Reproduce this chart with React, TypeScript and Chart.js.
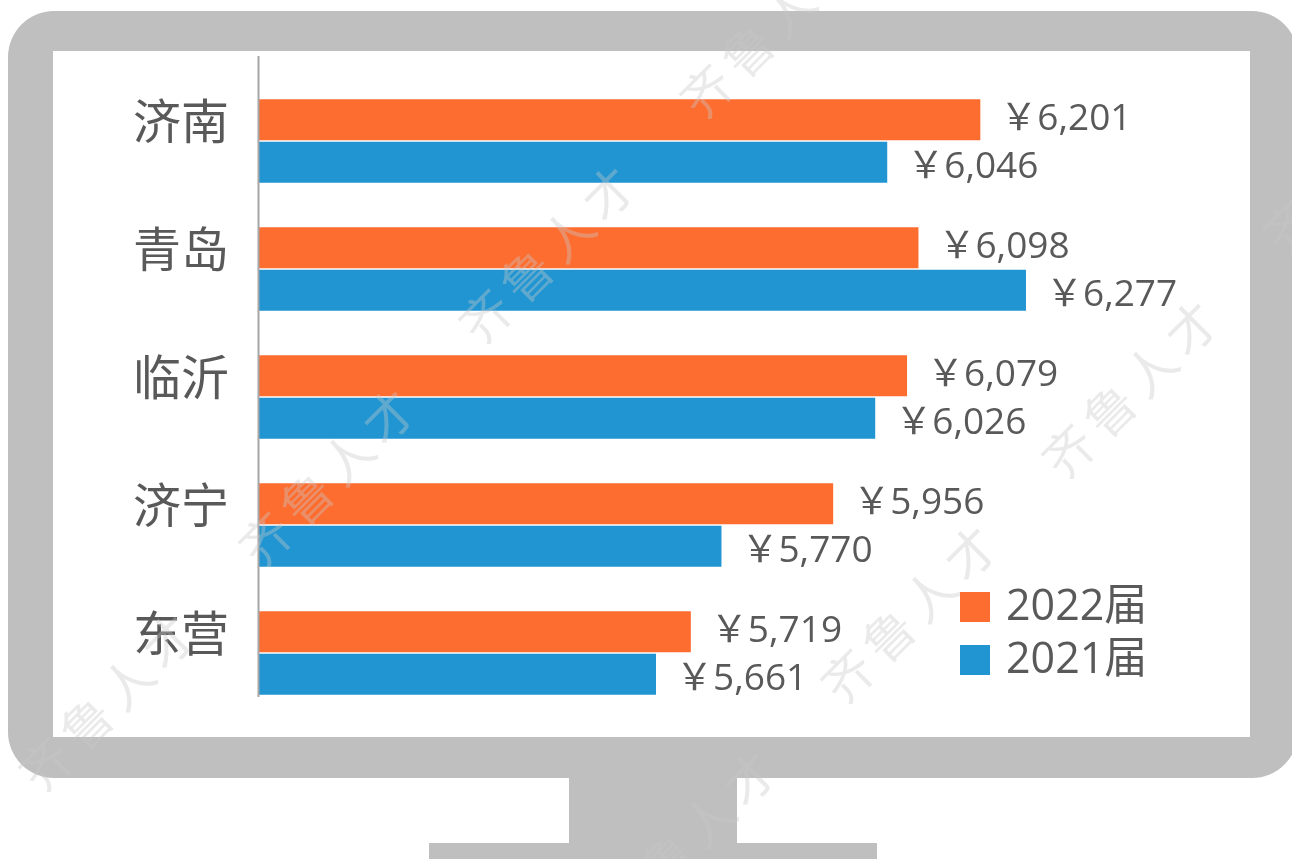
import React, { useEffect, useRef } from "react";
import { Chart, registerables } from "chart.js";

Chart.register(...registerables);

const categories = ["济南", "青岛", "临沂", "济宁", "东营"];
const values2022 = [6201, 6098, 6079, 5956, 5719];
const values2021 = [6046, 6277, 6026, 5770, 5661];
const seriesLabels = ["2022届", "2021届"];
const seriesColors = ["#FE6D30", "#2095D2"];
const xMin = 5000;
const xMax = 6650;
const watermarkText = "齐鲁人才";

const TEXT = "#595959";
const NUM_FONT = "'Open Sans', 'Noto Sans CJK SC', sans-serif";
const CJK_FONT = "'Noto Sans CJK SC', sans-serif";

const framePlugin = {
  id: "frame",
  beforeDraw(chart: any) {
    const ctx = chart.ctx;
    ctx.save();
    ctx.fillStyle = "#BFBFBF";
    ctx.beginPath();
    (ctx as any).roundRect(8, 11, 1290, 767, 46);
    ctx.fill();
    ctx.fillRect(569, 778, 168, 66);
    ctx.fillRect(429, 843, 448, 16);
    ctx.fillStyle = "#FFFFFF";
    ctx.fillRect(53, 51, 1197, 686);
    ctx.restore();
  },
  afterDraw(chart: any) {
    const ctx = chart.ctx;
    const area = chart.chartArea;
    ctx.save();
    ctx.strokeStyle = "#A6A6A6";
    ctx.lineWidth = 2;
    ctx.beginPath();
    ctx.moveTo(area.left - 0.5, area.top - 21);
    ctx.lineTo(area.left - 0.5, area.bottom - 20);
    ctx.stroke();

    const ds = chart.data.datasets;
    ds.forEach((d: any, i: number) => {
      const cy = 607 + i * 53;
      ctx.fillStyle = d.backgroundColor;
      ctx.fillRect(960, cy - 15, 30, 30);
      ctx.fillStyle = TEXT;
      ctx.font = `43px ${NUM_FONT}`;
      ctx.textAlign = "left";
      ctx.textBaseline = "middle";
      ctx.fillText(d.label, 1006, cy + 1);
    });

    const centers = [
      [771, 27], [550, 252], [330, 475], [110, 700],
      [1354, 162], [1133, 387], [912, 612], [691, 837],
    ];
    ctx.fillStyle = "rgba(200,200,200,0.38)";
    ctx.font = `50px ${CJK_FONT}`;
    ctx.textAlign = "center";
    ctx.textBaseline = "middle";
    centers.forEach(([x, y]) => {
      ctx.save();
      ctx.translate(x, y);
      ctx.rotate(-Math.PI / 4);
      (ctx as any).letterSpacing = "8px";
      ctx.fillText(watermarkText, 0, 0);
      ctx.restore();
    });
    ctx.restore();
  },
};

const valueLabelPlugin = {
  id: "valueLabels",
  afterDatasetsDraw(chart: any) {
    const ctx = chart.ctx;
    ctx.save();
    ctx.fillStyle = TEXT;
    ctx.font = `37px ${NUM_FONT}`;
    ctx.textAlign = "left";
    ctx.textBaseline = "middle";
    chart.data.datasets.forEach((d: any, di: number) => {
      const meta = chart.getDatasetMeta(di);
      meta.data.forEach((el: any, i: number) => {
        const v = d.data[i] as number;
        const txt = "￥" + v.toLocaleString("en-US");
        ctx.fillText(txt, el.x + 20, el.y + (di === 1 ? 5 : 0));
      });
    });
    ctx.restore();
  },
};

export default function App() {
  const canvasRef = useRef<HTMLCanvasElement | null>(null);

  useEffect(() => {
    if (!canvasRef.current) return;
    const chart = new Chart(canvasRef.current, {
      type: "bar",
      data: {
        labels: categories,
        datasets: [
          {
            label: seriesLabels[0],
            data: values2022,
            backgroundColor: seriesColors[0],
            borderWidth: 0,
            categoryPercentage: 0.664,
            barPercentage: 0.96,
          },
          {
            label: seriesLabels[1],
            data: values2021,
            backgroundColor: seriesColors[1],
            borderWidth: 0,
            categoryPercentage: 0.664,
            barPercentage: 0.96,
          },
        ],
      },
      options: {
        indexAxis: "y",
        animation: false,
        responsive: true,
        maintainAspectRatio: false,
        layout: { padding: { top: 77, bottom: 142, left: 0, right: 42 } },
        plugins: {
          legend: { display: false },
          tooltip: { enabled: false },
        },
        scales: {
          x: {
            type: "linear",
            min: xMin,
            max: xMax,
            display: false,
          },
          y: {
            type: "category",
            grid: { display: false, drawTicks: false },
            border: { display: false },
            afterFit(scale: any) {
              scale.width = 259;
            },
            ticks: {
              padding: 30,
              labelOffset: -20,
              color: TEXT,
              font: { family: CJK_FONT, size: 48 },
            },
          },
        },
      },
      plugins: [framePlugin, valueLabelPlugin],
    });
    return () => chart.destroy();
  }, []);

  return (
    <div style={{ position: "absolute", left: 0, top: 0, width: 1292, height: 859 }}>
      <canvas ref={canvasRef} />
    </div>
  );
}
